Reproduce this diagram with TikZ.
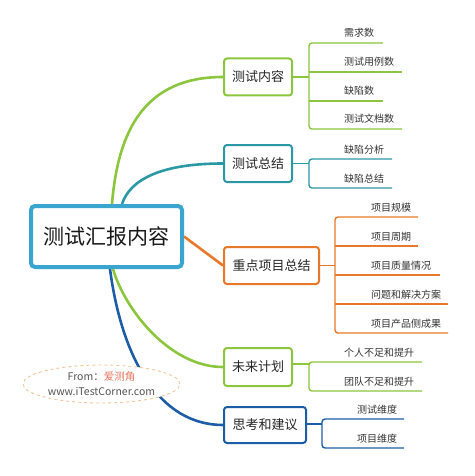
\documentclass[tikz,border=0pt]{standalone}
\usepackage{fontspec}
\setmainfont{Noto Sans CJK SC}
\usetikzlibrary{shapes.geometric,backgrounds}
\definecolor{cmain}{HTML}{3AA6D0}
\definecolor{cgreen}{HTML}{8CC63E}
\definecolor{cteal}{HTML}{2B98A6}
\definecolor{corange}{HTML}{E8792A}
\definecolor{cblue}{HTML}{1C5DA6}
\definecolor{cdash}{HTML}{F3C59A}
\definecolor{cgraytext}{HTML}{555555}
\definecolor{csalmon}{HTML}{E9775F}
\begin{document}
\begin{tikzpicture}[x=1pt,y=-1pt,
  mainbox/.style={draw=cmain, line width=4pt, rounded corners=4pt, fill=white,
    minimum width=151pt, minimum height=61pt, inner sep=0pt,
    font=\fontsize{21}{24}\selectfont, text=black!90},
  subbox/.style={draw=#1, line width=2pt, rounded corners=3pt, fill=white,
    minimum height=37pt, inner sep=0pt, font=\fontsize{13}{15}\selectfont, text=black!85},
  leaf/.style={anchor=base west, inner sep=0pt, font=\fontsize{10}{12}\selectfont, text=black!80},
  mainlink/.style={draw=#1, line width=2.6pt},
  brk/.style={draw=#1, line width=1.4pt, rounded corners=3pt},
  srcnote/.style={ellipse, draw=cdash, dashed, line width=0.9pt, fill=white,
    minimum width=157pt, minimum height=38pt, inner sep=0pt, align=center,
    font=\fontsize{10.5}{15}\selectfont, text=cgraytext}
]
\useasboundingbox (0,0) rectangle (474,476);

% nodes
\node[mainbox] (main) at (106.5,236.5) {测试汇报内容};
\node[subbox=cgreen, minimum width=68pt] (b1) at (258,77) {测试内容};
\node[subbox=cteal, minimum width=68pt] (b2) at (258,163.5) {测试总结};
\node[subbox=corange, minimum width=95pt] (b3) at (271.5,265.5) {重点项目总结};
\node[subbox=cgreen, minimum width=68pt, minimum height=38pt] (b4) at (258,367) {未来计划};
\node[subbox=cblue, minimum width=82pt, minimum height=36pt] (b5) at (265,425) {思考和建议};

% main curves (behind boxes)
\begin{scope}[on background layer]
\path[mainlink=cgreen] ([xshift=5.5pt]main.north) .. controls (118,130) and (145,77) .. (b1.west);
\path[mainlink=cteal] ([xshift=15.5pt]main.north) .. controls (130,180) and (160,163.5) .. (b2.west);
\path[mainlink=corange] (main.east) -- (b3.west);
\path[mainlink=cgreen] ([xshift=6.5pt]main.south) .. controls (125,310) and (170,367) .. (b4.west);
\path[mainlink=cblue] ([xshift=3.5pt]main.south) .. controls (122,360) and (160,425) .. (b5.west);
\end{scope}

% group 1
\coordinate (j1) at (309,77);
\draw[brk=cgreen] (b1.east) -- (j1);
\draw[brk=cgreen] (383,43) -- (309,43) -- (309,129) -- (402,129);
\draw[brk=cgreen] (309,72) -- (402,72);
\draw[brk=cgreen] (309,101) -- (383,101);
\node[leaf] (l11) at (344,37) {需求数};
\node[leaf] (l12) at (344,66) {测试用例数};
\node[leaf] (l13) at (344,95) {缺陷数};
\node[leaf] (l14) at (344,123) {测试文档数};

% group 2
\coordinate (j2) at (309,163.5);
\draw[brk=cteal] (b2.east) -- (j2);
\draw[brk=cteal] (392,159) -- (309,159) -- (309,188) -- (392,188);
\node[leaf] (l21) at (344,153) {缺陷分析};
\node[leaf] (l22) at (344,182) {缺陷总结};

% group 3
\coordinate (j3) at (335,265.5);
\draw[brk=corange] (b3.east) -- (j3);
\draw[brk=corange] (418,217) -- (335,217) -- (335,333) -- (448,333);
\draw[brk=corange] (335,246) -- (418,246);
\draw[brk=corange] (335,275) -- (440,275);
\draw[brk=corange] (335,304) -- (448,304);
\node[leaf] (l31) at (371,211) {项目规模};
\node[leaf] (l32) at (371,240) {项目周期};
\node[leaf] (l33) at (371,269) {项目质量情况};
\node[leaf] (l34) at (371,298) {问题和解决方案};
\node[leaf] (l35) at (371,327) {项目产品侧成果};

% group 4
\coordinate (j4) at (309,364);
\draw[brk=cgreen] (b4.east |- j4) -- (j4);
\draw[brk=cgreen] (422,362) -- (309,362) -- (309,391) -- (422,391);
\node[leaf] (l41) at (344,356) {个人不足和提升};
\node[leaf] (l42) at (344,385) {团队不足和提升};

% group 5
\coordinate (j5) at (322,424);
\draw[brk=cblue] (b5.east |- j5) -- (j5);
\draw[brk=cblue] (404,419) -- (322,419) -- (322,448) -- (404,448);
\node[leaf] (l51) at (357,413) {测试维度};
\node[leaf] (l52) at (357,442) {项目维度};

% source note
\node[srcnote] (src) at (101.5,384) {From：\textcolor{csalmon}{爱测角}\\www.iTestCorner.com};
\end{tikzpicture}
\end{document}
